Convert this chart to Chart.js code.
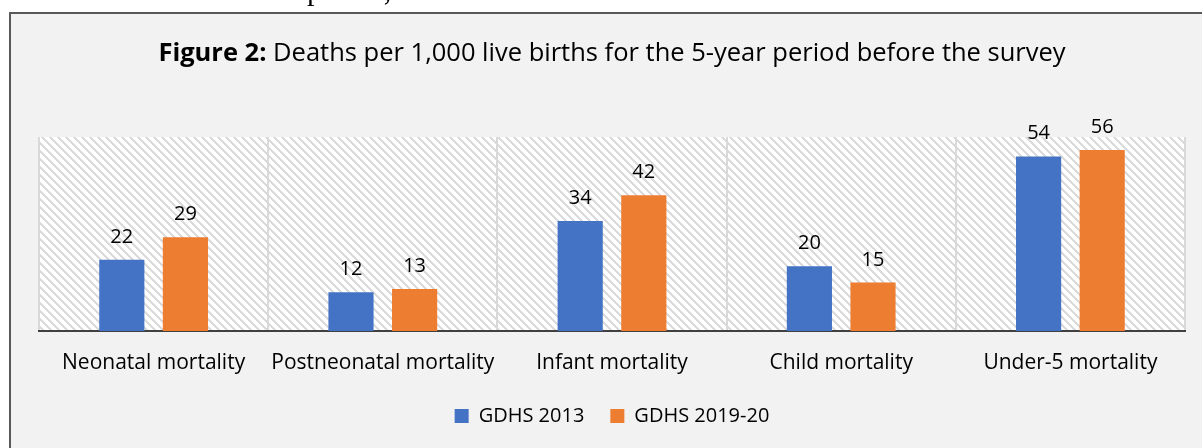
<!DOCTYPE html>
<html><head><meta charset="utf-8">
<script src="https://cdn.jsdelivr.net/npm/chart.js@4"></script>
<style>
html,body{margin:0;padding:0;background:#fff;width:1202px;height:448px;overflow:hidden;}
#frag{position:absolute;left:307px;top:-25px;font:30px/30px "Liberation Serif";color:#000;white-space:nowrap;z-index:2;}
#wrap{position:absolute;left:0;top:0;width:1202px;height:448px;}
</style></head><body>
<div id="frag">period,</div>
<div id="wrap"><canvas id="c" width="1202" height="448"></canvas></div>
<script>
const categories = ["Neonatal mortality","Postneonatal mortality","Infant mortality","Child mortality","Under-5 mortality"];
const gdhs2013 = [22,12,34,20,54];
const gdhs2019 = [29,13,42,15,56];
const seriesNames = ["GDHS 2013","GDHS 2019-20"];
const titleBold = "Figure 2:";
const titleRest = " Deaths per 1,000 live births for the 5-year period before the survey";

const FONT = "'Open Sans'";

function makePattern(ctx){
  const p = document.createElement('canvas');
  p.width = 8; p.height = 8;
  const pc = p.getContext('2d');
  const img = pc.createImageData(8,8);
  for(let y=0;y<8;y++)for(let x=0;x<8;x++){
    const i=(y*8+x)*4;
    const on = ((x - y + 16) % 8) < 3;
    const v = on ? 0xdb : 0xff;
    img.data[i]=v;img.data[i+1]=v;img.data[i+2]=v;img.data[i+3]=255;
  }
  pc.putImageData(img,0,0);
  return ctx.createPattern(p,'repeat');
}

const framePlugin = {
  id:'frame',
  beforeDraw(chart){
    const ctx = chart.ctx, a = chart.chartArea;
    ctx.save();
    ctx.fillStyle = '#f2f2f2';
    ctx.fillRect(10,13,1202-10,448-13);
    ctx.strokeStyle = '#595959';
    ctx.lineWidth = 2;
    ctx.beginPath();
    ctx.moveTo(10,448); ctx.lineTo(10,13); ctx.lineTo(1202,13);
    ctx.stroke();
    ctx.fillStyle = makePattern(ctx);
    ctx.fillRect(a.left,a.top,a.right-a.left,a.bottom-a.top);
    // title
    ctx.fillStyle = '#000';
    ctx.textBaseline = 'alphabetic';
    ctx.font = 'bold 25.5px ' + FONT;
    const w1 = ctx.measureText(titleBold).width;
    ctx.font = '25.5px ' + FONT;
    const w2 = ctx.measureText(titleRest).width;
    const cx = 612;
    let x = cx - (w1+w2)/2;
    ctx.textAlign = 'left';
    ctx.font = 'bold 25.5px ' + FONT;
    ctx.fillText(titleBold, x, 61);
    ctx.font = '25.5px ' + FONT;
    ctx.fillText(titleRest, x+w1, 61);
    ctx.restore();
  }
};

const labelPlugin = {
  id:'vals',
  afterDatasetsDraw(chart){
    const ctx = chart.ctx;
    ctx.save();
    ctx.font = '20px ' + FONT;
    ctx.fillStyle = '#000';
    ctx.textAlign = 'center';
    ctx.textBaseline = 'alphabetic';
    chart.data.datasets.forEach((ds,di)=>{
      chart.getDatasetMeta(di).data.forEach((el,i)=>{
        ctx.fillText(String(ds.data[i]), el.x, el.y - 17);
      });
    });
    ctx.restore();
  }
};

new Chart(document.getElementById('c'),{
  type:'bar',
  data:{
    labels:categories,
    datasets:[
      {label:seriesNames[0],data:gdhs2013,backgroundColor:'#4472C4',categoryPercentage:0.555,barPercentage:0.71},
      {label:seriesNames[1],data:gdhs2019,backgroundColor:'#ED7D31',categoryPercentage:0.555,barPercentage:0.71}
    ]
  },
  options:{
    responsive:false,
    animation:false,
    devicePixelRatio:1,
    layout:{padding:{left:39,right:17,top:137,bottom:12}},
    plugins:{
      legend:{position:'bottom',labels:{font:{family:"Open Sans",size:20},color:'#000',boxWidth:14,boxHeight:14,padding:26}},
      tooltip:{enabled:false},
      title:{display:false}
    },
    scales:{
      x:{
        grid:{display:true,color:'#d9d9d9',lineWidth:2,drawTicks:false,offset:true},
        border:{display:true,color:'#404040',width:2},
        ticks:{font:{family:"Open Sans",size:21},color:'#000',padding:19,maxRotation:0,autoSkip:false},
        afterFit(scale){ scale.height = 49; }
      },
      y:{display:false,min:0,max:60}
    }
  },
  plugins:[framePlugin,labelPlugin]
});
</script>
</body></html>
